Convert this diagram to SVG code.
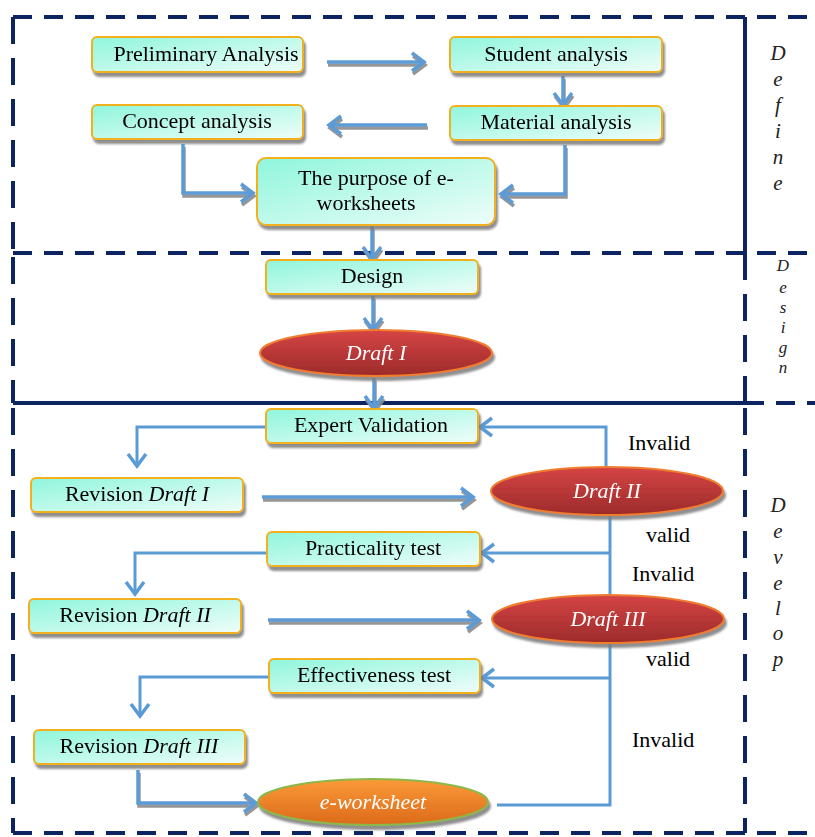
<svg xmlns="http://www.w3.org/2000/svg" width="815" height="837" viewBox="0 0 815 837">
<defs>
<style>
.frame{stroke:#0c2561;stroke-width:4;fill:none}
.dh{stroke-dasharray:19 12}
.dv{stroke-dasharray:27 14}
.box{stroke:#f2b01e;stroke-width:2;fill:url(#gBox)}
.ell{stroke:#f07b2e;stroke-width:2;fill:url(#gRed)}
.ell2{stroke:#8cb84a;stroke-width:2;fill:url(#gOrg)}
.t{font-family:"Liberation Serif","Times New Roman",serif;font-size:22px;fill:#000;text-anchor:middle}
.it{font-style:italic}
.et{font-family:"Liberation Serif","Times New Roman",serif;font-size:22px;font-style:italic;fill:#fff;text-anchor:middle}
.lab{font-family:"Liberation Serif","Times New Roman",serif;font-size:22px;fill:#000}
.side{font-family:"Liberation Serif","Times New Roman",serif;font-style:italic;fill:#222;text-anchor:middle}
.c{stroke:#5b9bd5;stroke-width:3.5;fill:none}
.ca{marker-end:url(#arr)}
.thin{stroke-width:3}
</style>
<linearGradient id="gBox" x1="0" y1="0" x2="1" y2="1">
<stop offset="0" stop-color="#8ff6dc"/>
<stop offset="1" stop-color="#effdf9"/>
</linearGradient>
<linearGradient id="gRed" x1="0" y1="0" x2="0" y2="1">
<stop offset="0" stop-color="#d64545"/>
<stop offset="1" stop-color="#9c2a2a"/>
</linearGradient>
<linearGradient id="gOrg" x1="0" y1="0" x2="0" y2="1">
<stop offset="0" stop-color="#fb9a38"/>
<stop offset="1" stop-color="#dc6a1a"/>
</linearGradient>
<filter id="sh" filterUnits="userSpaceOnUse" x="0" y="0" width="815" height="837">
<feDropShadow dx="2" dy="4" stdDeviation="1" flood-color="#7a7a7a" flood-opacity="0.85"/>
</filter>
<filter id="shl" filterUnits="userSpaceOnUse" x="0" y="0" width="815" height="837">
<feDropShadow dx="1" dy="3" stdDeviation="0.6" flood-color="#8a8a8a" flood-opacity="0.9"/>
</filter>
<marker id="arr" markerUnits="userSpaceOnUse" markerWidth="20" markerHeight="22" viewBox="0 0 20 22" refX="15" refY="11" orient="auto">
<path d="M3,2 L15,11 L3,20" fill="none" stroke="#5b9bd5" stroke-width="3.5"/>
</marker>
</defs>

<g id="frames">
<line class="frame dh" x1="13" y1="17" x2="815" y2="17"/>
<line class="frame dh" x1="13" y1="253" x2="815" y2="253"/>
<line class="frame" x1="13" y1="403" x2="745" y2="403"/>
<line class="frame dh" x1="745" y1="403" x2="815" y2="403"/>
<line class="frame dh" x1="13" y1="833" x2="815" y2="833"/>
<line class="frame dv" x1="13" y1="17" x2="13" y2="253"/>
<line class="frame dv" x1="13" y1="257" x2="13" y2="403"/>
<line class="frame dv" x1="13" y1="408" x2="13" y2="833"/>
<line class="frame" x1="745" y1="17" x2="745" y2="253" stroke-width="4.5"/>
<line class="frame dv" x1="745" y1="253" x2="745" y2="403"/>
<line class="frame dv" x1="745" y1="408" x2="745" y2="833"/>
</g>

<g id="phase-labels">
<text class="side" font-size="21"><tspan x="778" y="60">D</tspan><tspan x="778" y="86">e</tspan><tspan x="778" y="112">f</tspan><tspan x="778" y="138">i</tspan><tspan x="778" y="164">n</tspan><tspan x="778" y="190">e</tspan></text>
<text class="side" font-size="17"><tspan x="783" y="271">D</tspan><tspan x="783" y="293">e</tspan><tspan x="783" y="313">s</tspan><tspan x="783" y="333">i</tspan><tspan x="783" y="353">g</tspan><tspan x="783" y="373">n</tspan></text>
<text class="side" font-size="21"><tspan x="778" y="512">D</tspan><tspan x="778" y="538">e</tspan><tspan x="778" y="564">v</tspan><tspan x="778" y="590">e</tspan><tspan x="778" y="615">l</tspan><tspan x="778" y="640">o</tspan><tspan x="778" y="666">p</tspan></text>
</g>

<g id="connectors">
<g filter="url(#shl)">
<path class="c ca" d="M327,62 H424"/>
<path class="c ca" d="M563,76 V105"/>
<path class="c ca" d="M427,125 H329"/>
<path class="c ca" d="M183,144 V193 H253"/>
<path class="c ca" d="M565,145 V194 H501"/>
<path class="c ca" d="M372,226 V259"/>
<path class="c ca" d="M373,296 V330"/>
<path class="c ca" d="M374,378 V408"/>
<path class="c ca" d="M262,497 H473"/>
<path class="c ca" d="M268,620 H479"/>
<path class="c ca" d="M138,770 V803 H256"/>
</g>
<path class="c thin ca" d="M267,427 H137 V466"/>
<path class="c thin ca" d="M606,467 V427 H480"/>
<path class="c thin" d="M610,515 V596"/>
<path class="c thin ca" d="M610,553 H482"/>
<path class="c thin ca" d="M267,553 H135 V594"/>
<path class="c thin" d="M610,643 V805 H497"/>
<path class="c thin ca" d="M610,678 H482"/>
<path class="c thin ca" d="M269,677 H140 V716"/>
</g>

<g id="n-prelim" filter="url(#sh)"><rect class="box" x="92" y="37" width="211" height="35" rx="5"/><text class="t" x="206" y="61">Preliminary Analysis</text></g>
<g id="n-student" filter="url(#sh)"><rect class="box" x="450" y="37" width="212" height="35" rx="5"/><text class="t" x="556" y="61">Student analysis</text></g>
<g id="n-concept" filter="url(#sh)"><rect class="box" x="92" y="105" width="211" height="34" rx="5"/><text class="t" x="197" y="128">Concept analysis</text></g>
<g id="n-material" filter="url(#sh)"><rect class="box" x="450" y="106" width="212" height="34" rx="5"/><text class="t" x="556" y="129">Material analysis</text></g>
<g id="n-purpose" filter="url(#sh)"><rect class="box" x="257" y="158" width="238" height="67" rx="9"/><text class="t" x="376" y="185">The purpose of e-</text><text class="t" x="366" y="210">worksheets</text></g>
<g id="n-design" filter="url(#sh)"><rect class="box" x="266" y="260" width="212" height="34" rx="5"/><text class="t" x="372" y="283">Design</text></g>
<g id="n-draft1" filter="url(#sh)"><ellipse class="ell" cx="376" cy="353" rx="116" ry="23"/><text class="et" x="376" y="360">Draft I</text></g>
<g id="n-expert" filter="url(#sh)"><rect class="box" x="266" y="409" width="212" height="34" rx="5"/><text class="t" x="371" y="432">Expert Validation</text></g>
<g id="n-rev1" filter="url(#sh)"><rect class="box" x="31" y="478" width="212" height="34" rx="5"/><text class="t" x="137" y="501">Revision <tspan class="it">Draft I</tspan></text></g>
<g id="n-draft2" filter="url(#sh)"><ellipse class="ell" cx="607" cy="491" rx="116" ry="24"/><text class="et" x="607" y="498">Draft II</text></g>
<g id="n-practicality" filter="url(#sh)"><rect class="box" x="267" y="532" width="213" height="34" rx="5"/><text class="t" x="373" y="555">Practicality test</text></g>
<g id="n-rev2" filter="url(#sh)"><rect class="box" x="29" y="599" width="212" height="34" rx="5"/><text class="t" x="135" y="622">Revision <tspan class="it">Draft II</tspan></text></g>
<g id="n-draft3" filter="url(#sh)"><ellipse class="ell" cx="608" cy="619" rx="116" ry="24"/><text class="et" x="608" y="626">Draft III</text></g>
<g id="n-effectiveness" filter="url(#sh)"><rect class="box" x="269" y="659" width="211" height="34" rx="5"/><text class="t" x="374" y="682">Effectiveness test</text></g>
<g id="n-rev3" filter="url(#sh)"><rect class="box" x="34" y="730" width="211" height="34" rx="5"/><text class="t" x="139" y="753">Revision <tspan class="it">Draft III</tspan></text></g>
<g id="n-eworksheet" filter="url(#sh)"><ellipse class="ell2" cx="373" cy="802" rx="115" ry="23"/><text class="et" x="373" y="809">e-worksheet</text></g>

<g id="edge-labels">
<text class="lab" x="628" y="450">Invalid</text>
<text class="lab" x="646" y="542">valid</text>
<text class="lab" x="632" y="581">Invalid</text>
<text class="lab" x="646" y="666">valid</text>
<text class="lab" x="632" y="747">Invalid</text>
</g>
</svg>
